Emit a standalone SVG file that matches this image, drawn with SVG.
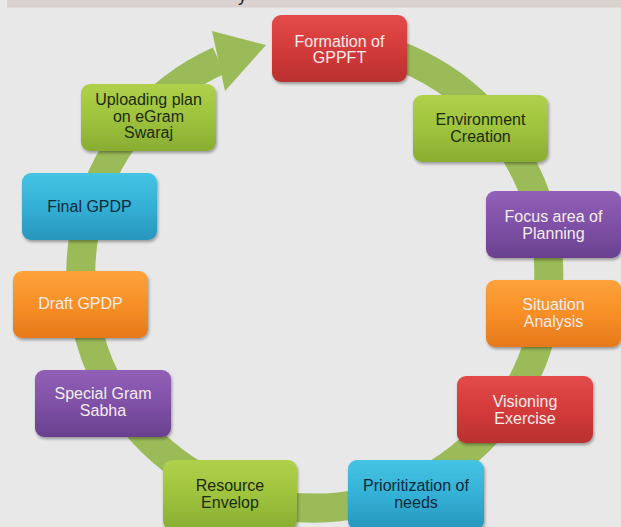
<svg xmlns="http://www.w3.org/2000/svg" width="621" height="527" viewBox="0 0 621 527">
<defs>
<linearGradient id="gRed" x1="0" y1="0" x2="0" y2="1"><stop offset="0" stop-color="#e34a4a"/><stop offset="0.5" stop-color="#d43b3b"/><stop offset="1" stop-color="#b93030"/></linearGradient>
<linearGradient id="gGreen" x1="0" y1="0" x2="0" y2="1"><stop offset="0" stop-color="#b0d04a"/><stop offset="0.5" stop-color="#9fc33d"/><stop offset="1" stop-color="#88ad31"/></linearGradient>
<linearGradient id="gPurple" x1="0" y1="0" x2="0" y2="1"><stop offset="0" stop-color="#9160b8"/><stop offset="0.5" stop-color="#7f51a6"/><stop offset="1" stop-color="#694090"/></linearGradient>
<linearGradient id="gBlue" x1="0" y1="0" x2="0" y2="1"><stop offset="0" stop-color="#45c4e3"/><stop offset="0.5" stop-color="#33b0d6"/><stop offset="1" stop-color="#2896bd"/></linearGradient>
<linearGradient id="gOrange" x1="0" y1="0" x2="0" y2="1"><stop offset="0" stop-color="#fda23a"/><stop offset="0.5" stop-color="#f78f27"/><stop offset="1" stop-color="#e6791c"/></linearGradient>
<filter id="sh" x="-10%" y="-10%" width="125%" height="130%"><feDropShadow dx="1" dy="2" stdDeviation="1.6" flood-color="#000" flood-opacity="0.35"/></filter>
</defs>
<style>
.box{filter:url(#sh)}
.t{font-family:"Liberation Sans",Arial,sans-serif;font-size:16px;text-anchor:middle}
.lt{fill:#f6ecec}
.dk{fill:#1c2a12}
.db{fill:#0e2a38}
</style>
<rect width="621" height="527" fill="#e8e8e8"/>
<rect x="7" y="0" width="614" height="7.5" fill="#dad2cf"/>
<text x="238" y="1" font-family="'Liberation Sans',Arial,sans-serif" font-size="18" fill="#222">y</text>
<g id="connectors">
<path d="M315 40 A234 234 0 1 1 218.8 60.6" fill="none" stroke="#9bbb59" stroke-width="29"/>
<polygon points="212,31 266,45 225,91" fill="#9bbb59"/>
</g>
<g id="n1"><rect class="box" x="272" y="15" width="135" height="67" rx="9" fill="url(#gRed)"/><text class="t lt" x="339.5" y="47">Formation of<tspan x="339.5" dy="16">GPPFT</tspan></text></g>
<g id="n2"><rect class="box" x="413" y="95" width="135" height="67" rx="9" fill="url(#gGreen)"/><text class="t dk" x="480.5" y="125">Environment<tspan x="480.5" dy="17">Creation</tspan></text></g>
<g id="n3"><rect class="box" x="486" y="191" width="135" height="67" rx="9" fill="url(#gPurple)"/><text class="t lt" x="553.5" y="222">Focus area of<tspan x="553.5" dy="17">Planning</tspan></text></g>
<g id="n4"><rect class="box" x="486" y="280" width="135" height="67" rx="9" fill="url(#gOrange)"/><text class="t lt" x="553.5" y="310">Situation<tspan x="553.5" dy="17">Analysis</tspan></text></g>
<g id="n5"><rect class="box" x="457" y="376" width="136" height="67" rx="9" fill="url(#gRed)"/><text class="t lt" x="525" y="407">Visioning<tspan x="525" dy="17">Exercise</tspan></text></g>
<g id="n6"><rect class="box" x="348" y="460" width="136" height="70" rx="9" fill="url(#gBlue)"/><text class="t db" x="416" y="491">Prioritization of<tspan x="416" dy="17">needs</tspan></text></g>
<g id="n7"><rect class="box" x="163" y="460" width="134" height="70" rx="9" fill="url(#gGreen)"/><text class="t dk" x="230" y="491">Resource<tspan x="230" dy="17">Envelop</tspan></text></g>
<g id="n8"><rect class="box" x="35" y="370" width="136" height="67" rx="9" fill="url(#gPurple)"/><text class="t lt" x="103" y="399">Special Gram<tspan x="103" dy="17">Sabha</tspan></text></g>
<g id="n9"><rect class="box" x="13" y="271" width="135" height="67" rx="9" fill="url(#gOrange)"/><text class="t lt" x="80.5" y="309">Draft GPDP</text></g>
<g id="n10"><rect class="box" x="22" y="173" width="135" height="67" rx="9" fill="url(#gBlue)"/><text class="t db" x="89.5" y="212">Final GPDP</text></g>
<g id="n11"><rect class="box" x="81" y="84" width="135" height="67" rx="9" fill="url(#gGreen)"/><text class="t dk" x="148.5" y="105">Uploading plan<tspan x="148.5" dy="16.5">on eGram</tspan><tspan x="148.5" dy="16.5">Swaraj</tspan></text></g>
</svg>
